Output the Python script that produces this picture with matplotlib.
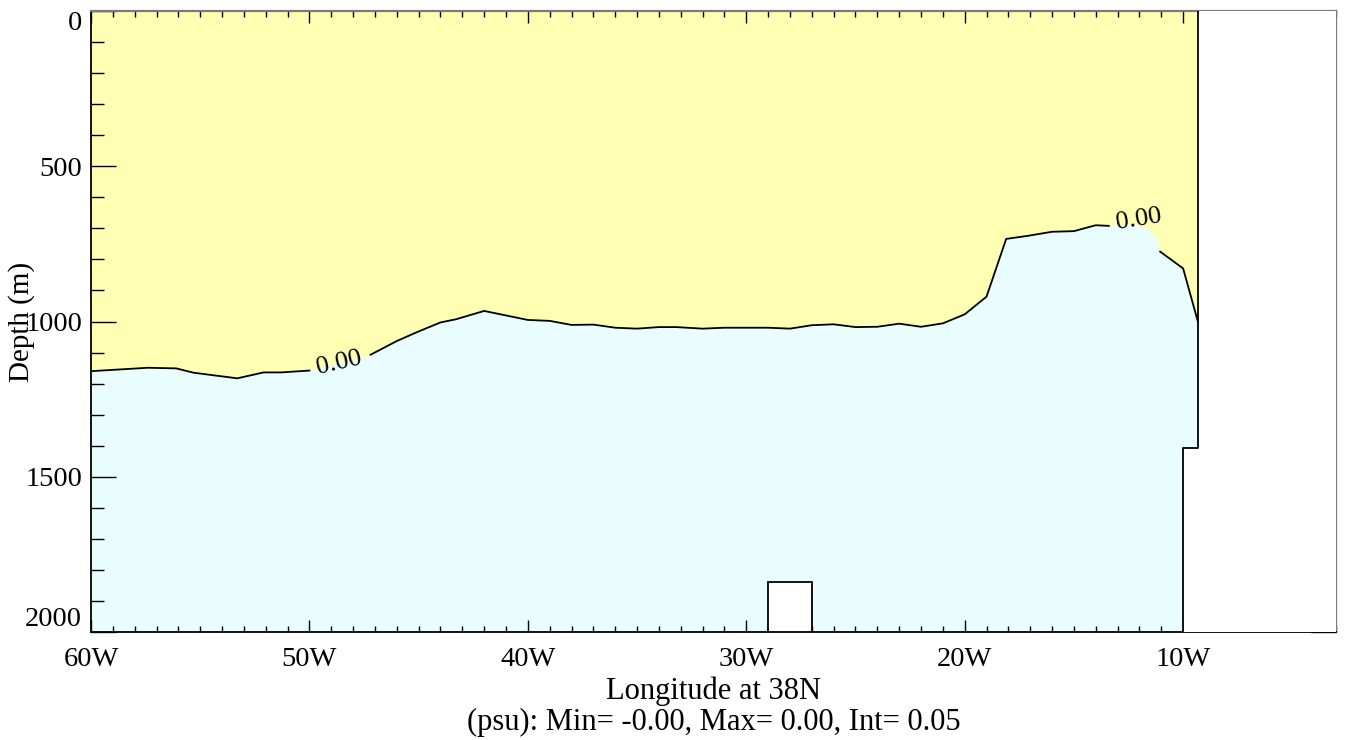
import numpy as np
import matplotlib
matplotlib.use("Agg")
import matplotlib.pyplot as plt
from matplotlib.ticker import MultipleLocator, FuncFormatter

plt.rcParams['font.family'] = ['Liberation Serif', 'DejaVu Serif']

# 0.00 psu contour along 38N: longitude (deg E) and depth (m)
lon_c = [-60.0, -57.4, -56.1, -55.3, -53.3, -52.1, -51.3, -50.0,
         -47.2, -46.0, -45.1, -44.0, -43.3, -42.0,
         -40.0, -39.0, -38.0, -37.0, -36.0, -35.0, -34.0,
         -33.2, -32.0, -31.0, -30.0, -29.0, -28.0, -27.0, -26.0, -25.0,
         -24.0, -23.0, -22.0, -21.0, -20.0, -19.0,
         -18.1, -17.1, -16.0, -15.0, -14.0,
         -13.4, -12.4, -11.7, -11.2, -11.05, -10.0, -9.3]
dep_c = [1160, 1149, 1151, 1165, 1183, 1164, 1164, 1158,
         1107, 1063, 1035, 1003, 993, 966,
         995, 998, 1011, 1010, 1020, 1023, 1018,
         1018, 1023, 1020, 1020, 1020, 1023, 1012, 1009, 1018,
         1017, 1007, 1017, 1006, 977, 920,
         734, 724, 711, 709, 690,
         692, 686, 699, 731, 775, 829, 1006]

# pieces of the contour line that are drawn (gaps hold the labels)
line_pieces = [(0, 8), (8, 42), (45, 48)]

# contour labels
label_lon = [-48.65, -12.05]
label_dep = [1132, 672]
label_rot = [13, 9]
label_txt = ["0.00", "0.00"]

# land / topography
coast_lon = [-9.3, -9.3, -10.0, -10.0]
coast_dep = [0, 1406, 1406, 2000]
ridge_lon = [-29.0, -29.0, -27.0, -27.0]
ridge_dep = [2000, 1840, 1840, 2000]

x_min, x_max = -60, -3
d_max = 2000

yellow = '#ffffb3'
cyan = '#e9fdff'

fig = plt.figure(figsize=(13.47, 7.40), dpi=100)
ax = fig.add_axes([91/1347, 108/740, 1245/1347, 621/740])

ax.fill_between(lon_c, 0, dep_c, color=yellow, lw=0)
ax.fill_between(lon_c, dep_c, d_max, color=cyan, lw=0)

# land in white with black outline
ax.fill(coast_lon + [x_max, x_max], coast_dep + [d_max, 0], color='white', lw=0, zorder=3)
ax.plot(coast_lon, coast_dep, color='black', lw=1.3, zorder=4)
ax.fill(ridge_lon, ridge_dep, facecolor='white', edgecolor='black', lw=1.3, zorder=4)

lon_a = np.array(lon_c)
dep_a = np.array(dep_c)
for i0, i1 in line_pieces:
    ax.plot(lon_a[i0:i1], dep_a[i0:i1], color='black', lw=1.3, zorder=2)

for lx, ly, r, t in zip(label_lon, label_dep, label_rot, label_txt):
    ax.text(lx, ly, t, rotation=r, ha='center', va='center', fontsize=19,
            rotation_mode='anchor', zorder=5)

ax.set_xlim(x_min, x_max)
ax.set_ylim(d_max, 0)


def lon_fmt(v, pos):
    v = int(round(v))
    if v < 0:
        return f"{-v}W"
    if v > 0:
        return f"{v}E"
    return "0"


ax.set_xticks([-60, -50, -40, -30, -20, -10])
ax.xaxis.set_major_formatter(FuncFormatter(lon_fmt))
ax.xaxis.set_minor_locator(MultipleLocator(1))
ax.set_yticks([0, 500, 1000, 1500, 2000])
ax.yaxis.set_minor_locator(MultipleLocator(100))

ax.tick_params(axis='x', which='major', direction='in', length=8.6, width=1,
               top=True, bottom=True, labelsize=20.5, pad=11)
ax.tick_params(axis='x', which='minor', direction='in', length=4.3, width=1,
               top=True, bottom=True)
ax.tick_params(axis='y', which='major', direction='in', length=18, width=1,
               left=True, right=True, labelsize=20.5, pad=6.5)
ax.tick_params(axis='y', which='minor', direction='in', length=9, width=1,
               left=True, right=True)

ylabs = ax.get_yticklabels()
ylabs[0].set_va('top')
ylabs[-1].set_va('bottom')

for side in ['left', 'bottom']:
    ax.spines[side].set_color('black')
    ax.spines[side].set_linewidth(1.3)
for side in ['top', 'right']:
    ax.spines[side].set_color('#7a7a7a')
    ax.spines[side].set_linewidth(1.6)

fig.text(713.5/1347, (740-699)/740, "Longitude at 38N", ha='center', va='baseline', fontsize=22)
fig.text(713.5/1347, (740-730)/740, "(psu): Min= -0.00, Max= 0.00, Int= 0.05",
         ha='center', va='baseline', fontsize=22)
fig.text(22/1347, (740-322)/740, "Depth (m)", rotation=90, ha='center', va='center', fontsize=21)

fig.savefig("out.png", dpi=100)
